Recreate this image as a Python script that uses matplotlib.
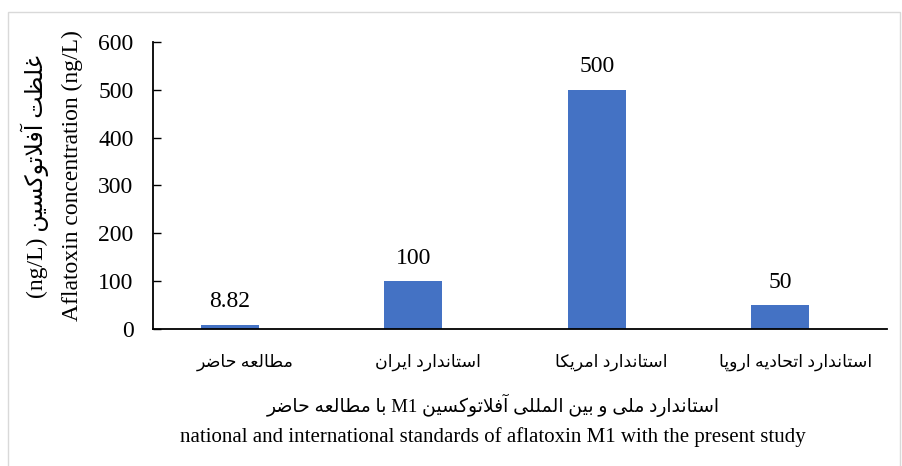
import matplotlib
matplotlib.use('Agg')
import matplotlib.pyplot as plt
from matplotlib.patches import Rectangle

# Times-like font for Latin text, DejaVu Sans as fallback for Persian glyphs
plt.rcParams['font.family'] = ['Liberation Serif', 'DejaVu Sans']

# ---- data ----
categories = ['مطالعه حاضر', 'استاندارد ایران', 'استاندارد امریکا', 'استاندارد اتحادیه اروپا']
values = [8.82, 100, 500, 50]
y_ticks = [0, 100, 200, 300, 400, 500, 600]
x_title_fa = 'استاندارد ملی و بین المللی آفلاتوکسین M1 با مطالعه حاضر'
x_title_en = 'national and international standards of aflatoxin M1 with the present study'
y_title_fa = 'غلظت آفلاتوکسین (ng/L)'
y_title_en = 'Aflatoxin concentration (ng/L)'

# ---- minimal Persian shaping (matplotlib does no bidi / joining) ----
# char -> (isolated, final, initial, medial); right-joining letters have no initial/medial
FORMS = {
    '\u0627': ('\uFE8D', '\uFE8E', None, None),          # alef
    '\u0622': ('\uFE81', '\uFE82', None, None),          # alef madda
    '\u062F': ('\uFEA9', '\uFEAA', None, None),          # dal
    '\u0631': ('\uFEAD', '\uFEAE', None, None),          # reh
    '\u0648': ('\uFEED', '\uFEEE', None, None),          # waw
    '\u0628': ('\uFE8F', '\uFE90', '\uFE91', '\uFE92'),  # beh
    '\u067E': ('\uFB56', '\uFB57', '\uFB58', '\uFB59'),  # peh
    '\u062A': ('\uFE95', '\uFE96', '\uFE97', '\uFE98'),  # teh
    '\u062D': ('\uFEA1', '\uFEA2', '\uFEA3', '\uFEA4'),  # hah
    '\u0633': ('\uFEB1', '\uFEB2', '\uFEB3', '\uFEB4'),  # seen
    '\u0636': ('\uFEBD', '\uFEBE', '\uFEBF', '\uFEC0'),  # dad
    '\u0637': ('\uFEC1', '\uFEC2', '\uFEC3', '\uFEC4'),  # tah
    '\u0638': ('\uFEC5', '\uFEC6', '\uFEC7', '\uFEC8'),  # zah
    '\u0639': ('\uFEC9', '\uFECA', '\uFECB', '\uFECC'),  # ain
    '\u063A': ('\uFECD', '\uFECE', '\uFECF', '\uFED0'),  # ghain
    '\u0641': ('\uFED1', '\uFED2', '\uFED3', '\uFED4'),  # feh
    '\u0644': ('\uFEDD', '\uFEDE', '\uFEDF', '\uFEE0'),  # lam
    '\u0645': ('\uFEE1', '\uFEE2', '\uFEE3', '\uFEE4'),  # meem
    '\u0646': ('\uFEE5', '\uFEE6', '\uFEE7', '\uFEE8'),  # noon
    '\u0647': ('\uFEE9', '\uFEEA', '\uFEEB', '\uFEEC'),  # heh
    '\u06CC': ('\uFBFC', '\uFBFD', '\uFBFE', '\uFBFF'),  # farsi yeh
    '\u06A9': ('\uFB8E', '\uFB8F', '\uFB90', '\uFB91'),  # keheh
}
LAM_ALEF = {'\u0627': ('\uFEFB', '\uFEFC'), '\u0622': ('\uFEF5', '\uFEF6')}


def shape_word(word):
    out = []
    i = 0
    n = len(word)
    while i < n:
        c = word[i]
        if c not in FORMS:
            out.append(c)
            i += 1
            continue
        prev = word[i - 1] if i > 0 else ''
        join_prev = prev in FORMS and FORMS[prev][2] is not None
        if c == '\u0644' and i + 1 < n and word[i + 1] in LAM_ALEF:
            iso, fin = LAM_ALEF[word[i + 1]]
            out.append(fin if join_prev else iso)
            i += 2
            continue
        nxt = word[i + 1] if i + 1 < n else ''
        join_next = FORMS[c][2] is not None and nxt in FORMS
        iso, fin, ini, med = FORMS[c]
        if join_prev and join_next:
            out.append(med)
        elif join_prev:
            out.append(fin)
        elif join_next:
            out.append(ini)
        else:
            out.append(iso)
        i += 1
    return ''.join(out)


def rtl(text):
    """Return a right-to-left line in visual (left-to-right) order."""
    words = text.split(' ')
    out = []
    for w in reversed(words):
        if any(ch in FORMS for ch in w):
            out.append(shape_word(w)[::-1])
        else:
            out.append(w)
    return ' '.join(out)


# ---- figure ----
fig = plt.figure(figsize=(9.03, 4.66), dpi=100)
ax = fig.add_axes([0.1694, 0.294, 0.8129, 0.6159])

x = list(range(len(categories)))
bar_shift = -0.082
bars = ax.bar([i + bar_shift for i in x], values, width=0.316, color='#4472C4')
ax.bar_label(bars, labels=[f'{v:g}' for v in values], padding=9, fontsize=17)

ax.set_xlim(-0.5, 3.5)
ax.set_ylim(0, 600)
ax.set_yticks(y_ticks)
ax.set_xticks(x)
ax.set_xticklabels([rtl(c) for c in categories], fontsize=12.5)
ax.tick_params(axis='x', length=0, pad=18)
ax.tick_params(axis='y', direction='in', length=5.5, width=1, pad=14, labelsize=17)

for s in ['top', 'right']:
    ax.spines[s].set_visible(False)
for s in ['left', 'bottom']:
    ax.spines[s].set_linewidth(1.3)

# axis titles (two lines each, Persian + English)
fig.text(0.546, 0.1309, rtl(x_title_fa), ha='center', va='center', fontsize=13.5)
fig.text(0.546, 0.0622, x_title_en, ha='center', va='center', fontsize=15)
fig.text(0.0388, 0.6223, rtl(y_title_fa), ha='center', va='center', rotation=90, fontsize=17)
fig.text(0.0797, 0.6223, y_title_en, ha='center', va='center', rotation=90, fontsize=17)

# light grey chart-area border
fig.patches.append(Rectangle((8 / 903, -0.1), (900 - 8) / 903, 1.0742,
                             transform=fig.transFigure, fill=False,
                             edgecolor='#d9d9d9', linewidth=1))

fig.savefig('out.png', dpi=100)
